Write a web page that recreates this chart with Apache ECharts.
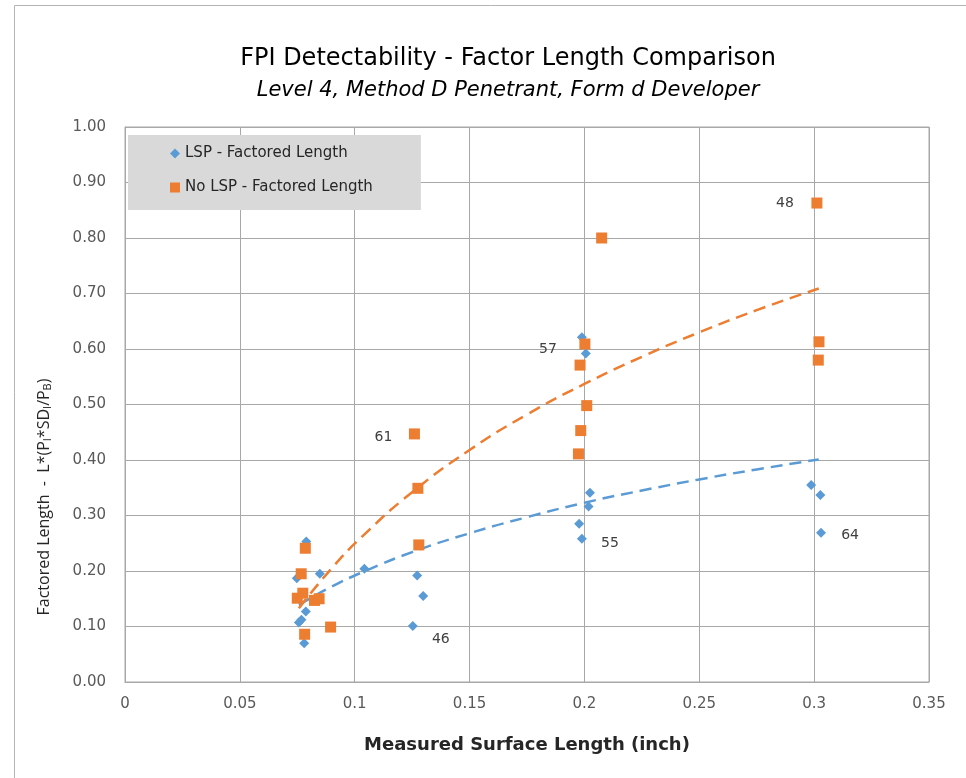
<!DOCTYPE html>
<html>
<head>
<meta charset="utf-8">
<title>FPI Detectability - Factor Length Comparison</title>
<script src="https://cdn.jsdelivr.net/npm/echarts@6/dist/echarts.min.js"></script>
<style>
    html, body { margin: 0; padding: 0; background: #fff; }
    #chart { width: 966px; height: 778px; }
</style>
</head>
<body>
<div id="chart"></div>
<script>
// Chart data
// ------------------------------

// LSP - Factored Length (blue diamonds)
var lspX = [0.0789, 0.0748, 0.0848, 0.0757, 0.0768, 0.0787, 0.0780, 0.1042, 0.1272, 0.1298,
            0.1253, 0.1989, 0.2006, 0.2024, 0.2018, 0.1977, 0.1989, 0.2987, 0.3027, 0.3030];
var lspY = [0.253, 0.187, 0.195, 0.107, 0.112, 0.127, 0.070, 0.204, 0.192, 0.155,
            0.101, 0.621, 0.592, 0.341, 0.316, 0.285, 0.258, 0.355, 0.337, 0.269];
var lspNotes = ['', '', '', '', '', '', '', '', '', '',
                '46', '', '', '', '', '', '55', '', '', '64'];

// No LSP - Factored Length (orange squares)
var noLspX = [0.0785, 0.0767, 0.0774, 0.0750, 0.0825, 0.0845, 0.0782, 0.0895, 0.1260, 0.1275,
              0.1279, 0.2002, 0.1981, 0.2010, 0.1984, 0.1974, 0.2075, 0.3012, 0.3021, 0.3018];
var noLspY = [0.241, 0.195, 0.160, 0.151, 0.147, 0.150, 0.086, 0.099, 0.447, 0.349,
              0.247, 0.609, 0.571, 0.498, 0.453, 0.411, 0.800, 0.863, 0.613, 0.580];
var noLspNotes = ['', '', '', '', '', '', '', '', '61', '',
                  '', '57', '', '', '', '', '', '48', '', ''];

// Trend lines
var trendX = [0.0757, 0.09, 0.104, 0.125, 0.15, 0.175, 0.2, 0.225, 0.25, 0.275, 0.302];
var lspTrendY = [0.139, 0.172, 0.199, 0.234, 0.268, 0.297, 0.323, 0.345, 0.365, 0.383, 0.401];
var noLspTrendY = [0.133, 0.205, 0.265, 0.342, 0.418, 0.482, 0.537, 0.586, 0.630, 0.670, 0.709];

// Axis ticks
var xTicks = [0, 0.05, 0.1, 0.15, 0.2, 0.25, 0.3, 0.35];
var yTicks = [0, 0.1, 0.2, 0.3, 0.4, 0.5, 0.6, 0.7, 0.8, 0.9, 1.0];


// Setup
// ------------------------------

var FONT = '"DejaVu Sans", "Noto Sans", sans-serif';
var NAME_FONT = '"Open Sans", "Noto Sans", sans-serif';
var BLUE = '#5B9BD5';
var ORANGE = '#ED7D31';
var GRID_COLOR = '#a8a8a8';

// where each point note sits relative to its marker
var noteOffsets = {
    '46': [28, 13],
    '55': [28, 5],
    '64': [29, 3],
    '61': [-31, 3],
    '57': [-37, 5],
    '48': [-32, 0]
};

function buildPoints(xs, ys, notes) {
    return xs.map(function(x, i) {
        var item = { value: [x, ys[i]] };
        if (notes[i]) {
            item.label = {
                show: true,
                position: 'inside',
                offset: noteOffsets[notes[i]],
                formatter: notes[i],
                color: '#404040',
                fontSize: 14,
                fontFamily: FONT
            };
        }
        return item;
    });
}

function buildLine(xs, ys) {
    return xs.map(function(x, i) { return [x, ys[i]]; });
}

var chartElement = document.getElementById('chart');
var chart = echarts.init(chartElement, null, { renderer: 'canvas' });

chart.setOption({
    animation: false,
    backgroundColor: '#fff',
    textStyle: {
        fontFamily: FONT
    },

    title: {
        text: 'FPI Detectability - Factor Length Comparison',
        subtext: 'Level 4, Method D Penetrant, Form d Developer',
        left: 503,
        textAlign: 'center',
        top: 42,
        itemGap: 9,
        textStyle: {
            fontFamily: FONT,
            fontSize: 24,
            fontWeight: 'normal',
            color: '#000'
        },
        subtextStyle: {
            fontFamily: FONT,
            fontSize: 21,
            fontStyle: 'italic',
            color: '#000'
        }
    },

    legend: {
        orient: 'vertical',
        left: 128,
        top: 135,
        backgroundColor: '#d9d9d9',
        padding: [11, 48, 15, 42],
        itemWidth: 10,
        itemHeight: 10,
        itemGap: 19,
        textStyle: {
            fontFamily: FONT,
            fontSize: 15,
            lineHeight: 14,
            color: '#262626'
        },
        data: [
            { name: 'LSP - Factored Length', icon: 'diamond' },
            { name: 'No LSP - Factored Length', icon: 'rect' }
        ]
    },

    grid: {
        left: 125,
        right: 37,
        top: 127,
        bottom: 96,
        show: true,
        borderColor: GRID_COLOR,
        borderWidth: 1
    },

    xAxis: {
        type: 'value',
        min: xTicks[0],
        max: xTicks[xTicks.length - 1],
        interval: 0.05,
        name: 'Measured Surface Length (inch)',
        nameLocation: 'middle',
        nameGap: 54,
        nameTextStyle: {
            fontFamily: FONT,
            fontSize: 18,
            fontWeight: 'bold',
            color: '#262626'
        },
        axisLine: { lineStyle: { color: GRID_COLOR } },
        axisTick: { show: false },
        axisLabel: {
            margin: 15,
            fontSize: 15,
            color: '#595959',
            formatter: function(v) { return String(+v.toFixed(2)); }
        },
        splitLine: { show: true, lineStyle: { color: GRID_COLOR, width: 1 } }
    },

    yAxis: {
        type: 'value',
        min: yTicks[0],
        max: yTicks[yTicks.length - 1],
        interval: 0.1,
        axisLine: { show: true, lineStyle: { color: GRID_COLOR } },
        axisTick: { show: false },
        axisLabel: {
            margin: 19,
            fontSize: 15,
            color: '#595959',
            formatter: function(v) { return v.toFixed(2); }
        },
        splitLine: { show: true, lineStyle: { color: GRID_COLOR, width: 1 } }
    },

    graphic: [
        {
            // outer chart frame
            type: 'rect',
            silent: true,
            shape: { x: 14.5, y: 5.5, width: 1000, height: 1000 },
            style: { fill: 'none', stroke: '#b4b4b4', lineWidth: 1 }
        },
        {
            // vertical axis title, sits lower than the plot middle
            type: 'text',
            silent: true,
            x: 44,
            y: 497,
            rotation: Math.PI / 2,
            style: {
                text: '{b|Factored Length  -  L*(P}{s|I}{b|*SD}{s|I}{b|/P}{s|B}{b|)}',
                align: 'center',
                verticalAlign: 'middle',
                rich: {
                    b: { fontFamily: NAME_FONT, fontSize: 16, fill: '#262626' },
                    s: { fontFamily: NAME_FONT, fontSize: 11, fill: '#262626', verticalAlign: 'bottom', padding: [8, 0, 0, 0] }
                }
            }
        }
    ],

    series: [
        {
            name: 'LSP trend',
            type: 'line',
            smooth: true,
            showSymbol: false,
            silent: true,
            z: 1,
            lineStyle: { color: BLUE, width: 2.5, type: [12, 7] },
            data: buildLine(trendX, lspTrendY)
        },
        {
            name: 'No LSP trend',
            type: 'line',
            smooth: true,
            showSymbol: false,
            silent: true,
            z: 1,
            lineStyle: { color: ORANGE, width: 2.5, type: [12, 7] },
            data: buildLine(trendX, noLspTrendY)
        },
        {
            name: 'LSP - Factored Length',
            type: 'scatter',
            symbol: 'diamond',
            symbolSize: 10,
            z: 3,
            itemStyle: { color: BLUE, opacity: 1 },
            data: buildPoints(lspX, lspY, lspNotes)
        },
        {
            name: 'No LSP - Factored Length',
            type: 'scatter',
            symbol: 'rect',
            symbolSize: 11,
            z: 4,
            itemStyle: { color: ORANGE, opacity: 1 },
            data: buildPoints(noLspX, noLspY, noLspNotes)
        }
    ]
});
</script>
</body>
</html>
